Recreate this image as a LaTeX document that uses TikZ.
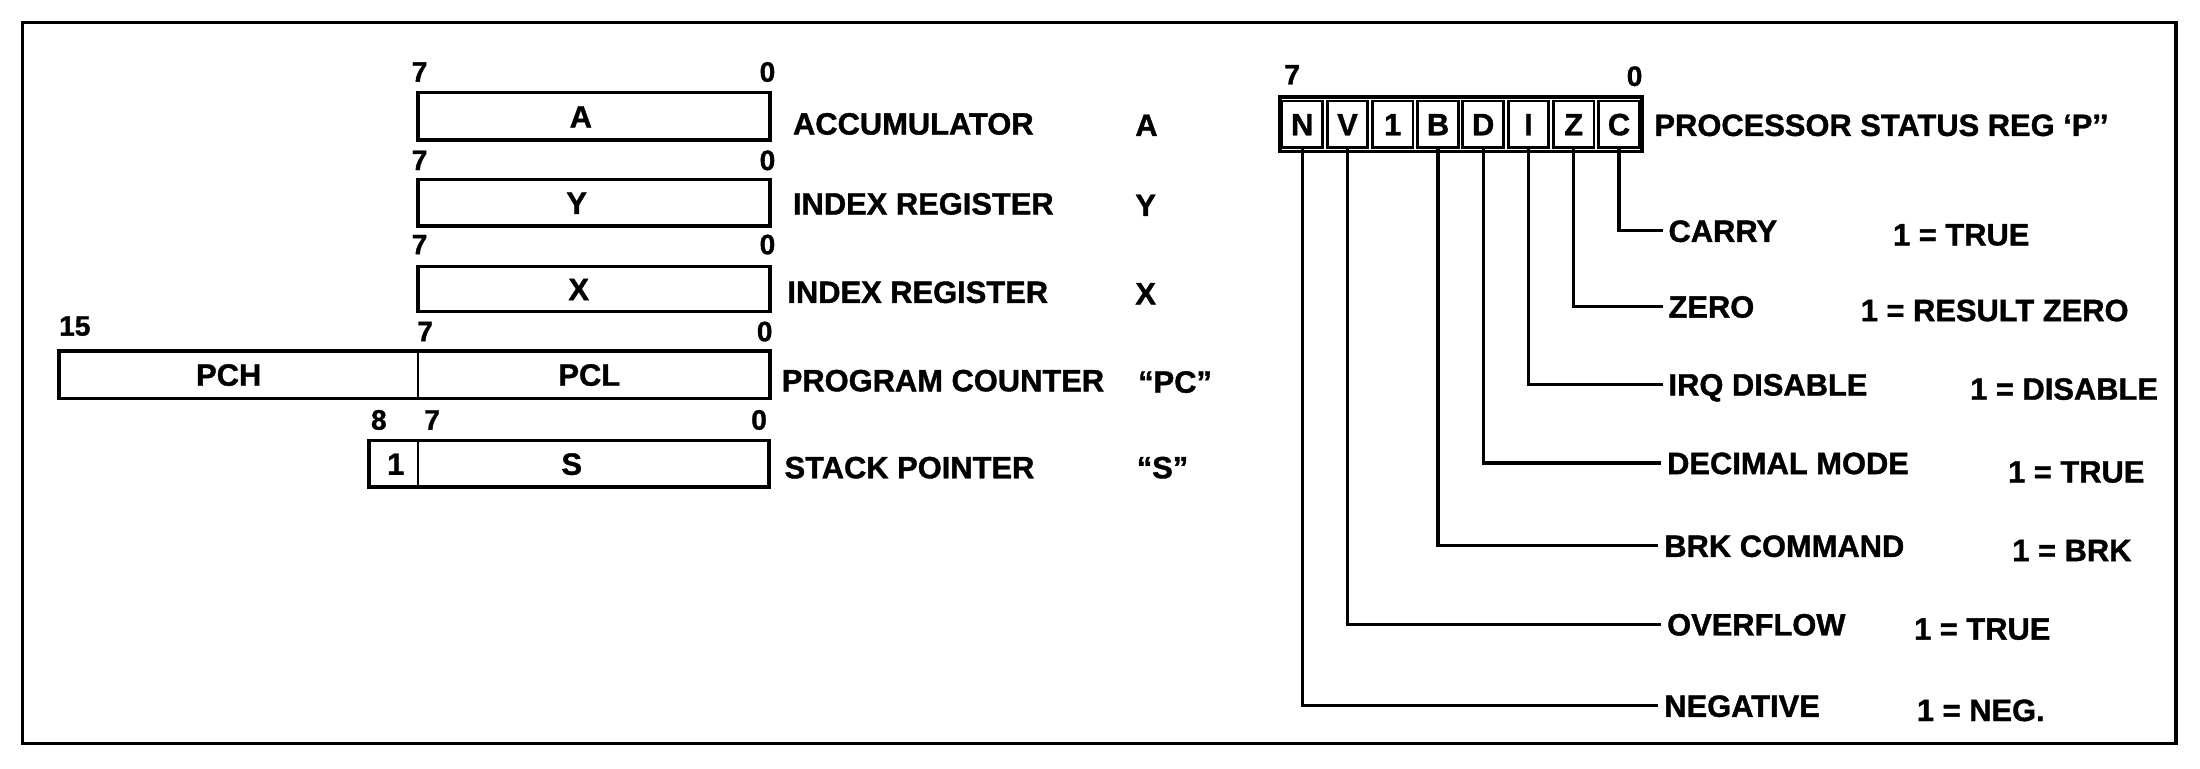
\documentclass[tikz,border=0pt]{standalone}
\usepackage{fontspec}
\setmainfont{Liberation Sans}[BoldFeatures={FakeBold=1.2}]
\newcommand\labfont{\fontsize{22}{24}\selectfont\bfseries}
\newcommand\bitfont{\fontsize{20}{22}\selectfont\bfseries}
\begin{document}
\begin{tikzpicture}[x=1pt,y=-1pt,
  regbox/.style={draw, line width=2.6pt, inner sep=0pt},
  subbox/.style={draw, line width=1.3pt, inner sep=0pt},
  cellbox/.style={draw, line width=2pt, minimum width=29pt, minimum height=33pt, inner sep=0pt, font=\labfont, text height=15.8pt, text depth=0pt},
  txt/.style={font=\labfont, inner sep=0pt, text height=15.8pt, text depth=0pt},
  lbl/.style={txt, anchor=west},
  flag/.style={txt, anchor=west, inner xsep=4pt},
  bit/.style={font=\bitfont, inner sep=0pt, text height=14.4pt, text depth=0pt},
  leader/.style={line width=2.2pt},
  frame/.style={line width=2.5pt}]
\useasboundingbox (0,0) rectangle (1568,548);
\draw[frame] (16,16) rectangle (1551,530);

% ---- Accumulator A
\node[regbox, minimum width=251pt, minimum height=34pt] (regA) at (423.5,83) {};
\node[txt] (tA) at (414,83) {A};
\node[bit] (a7) at (299,51) {7};
\node[bit] (a0) at (547,51) {0};
\node[lbl] (nameA) at (565,88) {ACCUMULATOR};
\node[lbl] (symA) at (809,89) {A};

% ---- Index Y
\node[regbox, minimum width=251pt, minimum height=33pt] (regY) at (423.5,144.5) {};
\node[txt] (tY) at (411,144.5) {Y};
\node[bit] (y7) at (299,114) {7};
\node[bit] (y0) at (547,114) {0};
\node[lbl] (nameY) at (565,145) {INDEX REGISTER};
\node[lbl] (symY) at (809,146) {Y};

% ---- Index X
\node[regbox, minimum width=251pt, minimum height=32pt] (regX) at (423.5,206) {};
\node[txt] (tX) at (412.5,206) {X};
\node[bit] (x7) at (299,174) {7};
\node[bit] (x0) at (547,174) {0};
\node[lbl] (nameX) at (561,208) {INDEX REGISTER};
\node[lbl] (symX) at (809,209) {X};

% ---- Program counter
\node[subbox, minimum width=256pt, minimum height=34pt] (pch) at (170,267) {};
\node[subbox, minimum width=251pt, minimum height=34pt] (pcl) at (423.5,267) {};
\node[regbox, minimum width=507pt, minimum height=34pt] (regPC) at (295.5,267) {};
\node[txt] (tPCH) at (163,267) {PCH};
\node[txt] (tPCL) at (420,267) {PCL};
\node[bit, anchor=west] (pc15) at (42,232) {15};
\node[bit] (pc7) at (303,236) {7};
\node[bit] (pc0) at (545,236) {0};
\node[lbl] (namePC) at (557,271) {PROGRAM COUNTER};
\node[lbl] (symPC) at (811,272) {“PC”};

% ---- Stack pointer
\node[subbox, minimum width=35pt, minimum height=33pt] (s1) at (280.5,330.5) {};
\node[subbox, minimum width=250pt, minimum height=33pt] (sS) at (423,330.5) {};
\node[regbox, minimum width=285pt, minimum height=33pt] (regS) at (405.5,330.5) {};
\node[txt] (tS1) at (282,330.5) {1};
\node[txt] (tS) at (407.5,330.5) {S};
\node[bit] (s8) at (270,299) {8};
\node[bit] (s7) at (308,299) {7};
\node[bit] (s0) at (541,299) {0};
\node[lbl] (nameS) at (559,333) {STACK POINTER};
\node[lbl] (symS) at (810,333) {“S”};

% ---- Processor status register
\node[regbox, line width=2.8pt, minimum width=258pt, minimum height=39pt] (regP) at (1041,88.5) {};
\node[cellbox] (cN) at (928.1,88.5) {N};
\node[cellbox] (cV) at (960.4,88.5) {V};
\node[cellbox] (c1) at (992.6,88.5) {1};
\node[cellbox] (cB) at (1024.9,88.5) {B};
\node[cellbox] (cD) at (1057.1,88.5) {D};
\node[cellbox] (cI) at (1089.4,88.5) {I};
\node[cellbox] (cZ) at (1121.6,88.5) {Z};
\node[cellbox] (cC) at (1153.9,88.5) {C};
\node[bit] (p7) at (921,53) {7};
\node[bit] (p0) at (1165,54) {0};
\node[lbl] (nameP) at (1179,89) {PROCESSOR STATUS REG ‘P’’};

% ---- flag labels
\node[flag] (fC) at (1185,164.5) {CARRY};
\node[lbl]  (vC) at (1349,167) {1 = TRUE};
\node[flag] (fZ) at (1185,218.5) {ZERO};
\node[lbl]  (vZ) at (1326,221) {1 = RESULT ZERO};
\node[flag] (fI) at (1185,274) {IRQ DISABLE};
\node[lbl]  (vI) at (1404,277) {1 = DISABLE};
\node[flag] (fD) at (1184,330) {DECIMAL MODE};
\node[lbl]  (vD) at (1431,336) {1 = TRUE};
\node[flag] (fB) at (1182,389) {BRK COMMAND};
\node[lbl]  (vB) at (1434,392) {1 = BRK};
\node[flag] (fV) at (1184,445) {OVERFLOW};
\node[lbl]  (vV) at (1364,448) {1 = TRUE};
\node[flag] (fN) at (1182,503) {NEGATIVE};
\node[lbl]  (vN) at (1366,506) {1 = NEG.};

% ---- leaders
\draw[leader] (cC.south) |- (fC.west);
\draw[leader] (cZ.south) |- (fZ.west);
\draw[leader] (cI.south) |- (fI.west);
\draw[leader] (cD.south) |- (fD.west);
\draw[leader] (cB.south) |- (fB.west);
\draw[leader] (cV.south) |- (fV.west);
\draw[leader] (cN.south) |- (fN.west);
\end{tikzpicture}
\end{document}
